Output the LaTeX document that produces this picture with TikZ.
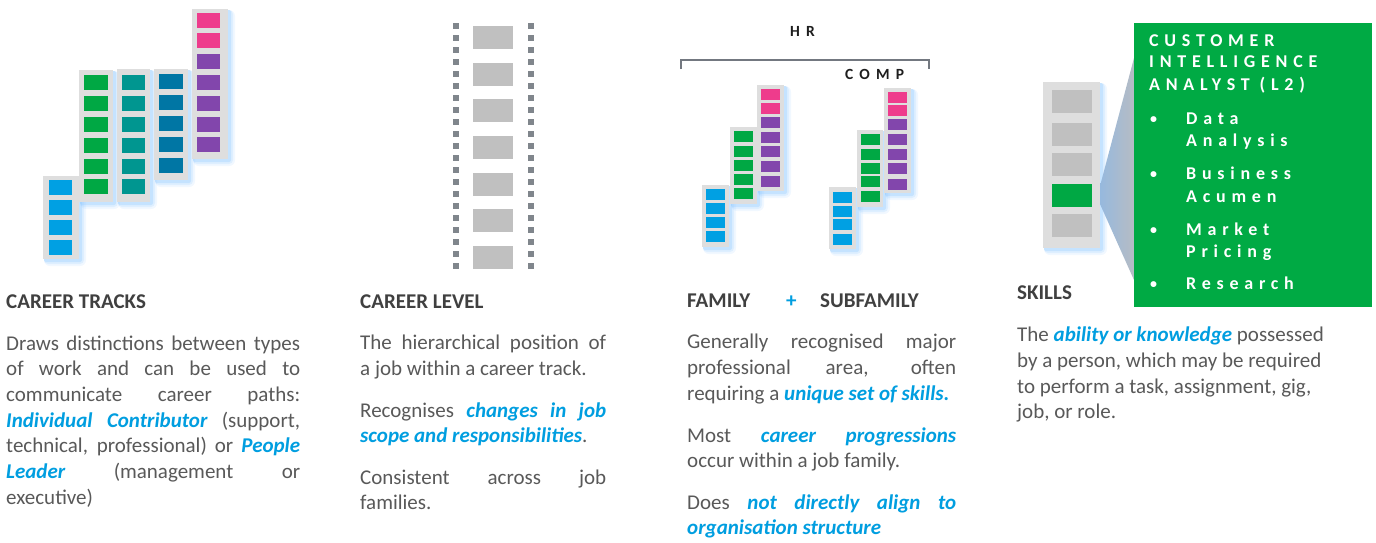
\documentclass[tikz,border=0pt]{standalone}
\usepackage{fontspec}
\setmainfont{Carlito}
\newfontfamily\spacedA[LetterSpace=32]{Carlito}
\newfontfamily\spacedB[LetterSpace=40]{Carlito}
\definecolor{cblue}{RGB}{0,160,227}
\definecolor{cgreen}{RGB}{0,168,68}
\definecolor{cteal}{RGB}{0,150,144}
\definecolor{cdblue}{RGB}{0,118,164}
\definecolor{cpurple}{RGB}{130,70,172}
\definecolor{cpink}{RGB}{238,60,140}
\definecolor{bggray}{RGB}{222,222,222}
\definecolor{sqgray}{RGB}{192,192,192}
\definecolor{dotgray}{RGB}{128,134,140}
\definecolor{tblue}{RGB}{0,158,224}
\definecolor{bodygray}{RGB}{89,89,89}
\definecolor{headgray}{RGB}{64,64,64}
\definecolor{boxgreen}{RGB}{0,170,68}
\definecolor{glowc}{RGB}{140,200,255}
\definecolor{hrblack}{RGB}{30,30,30}
\definecolor{bracketc}{RGB}{115,120,128}
\definecolor{wedgeblue}{RGB}{150,185,222}
\definecolor{wedgegray}{RGB}{182,188,196}
\newcommand\bi[1]{{\bfseries\itshape\color{tblue}#1}}
\newcommand\glowbg[4]{%
  \fill[glowc,opacity=0.12,rounded corners=6pt] (#1+1,#2+1) rectangle (#3+7,#4+7);
  \fill[glowc,opacity=0.18,rounded corners=4pt] (#1+1,#2+1) rectangle (#3+5,#4+5);
  \fill[glowc,opacity=0.30,rounded corners=2pt] (#1+1,#2+1) rectangle (#3+3,#4+3);
  \fill[bggray] (#1,#2) rectangle (#3,#4);
}
\newcommand\sqs[5]{\foreach \yy in {#5} {\fill[#1] (#2,\yy) rectangle ++(#3,#4);}}
\newcommand\jline[5]{\node[bodytxt] (#1) at (#2,#3) {\makebox[#4pt][s]{#5}};}
\newcommand\pline[4]{\node[bodytxt] (#1) at (#2,#3) {#4};}
\newcommand\bxline[4]{\node[boxtxt] (#1) at (#2,#3) {#4};}
\tikzset{
  bodytxt/.style={inner sep=0pt, anchor=base west, text=bodygray, font=\fontsize{21}{25.7}\selectfont},
  headtxt/.style={inner sep=0pt, anchor=base west, text=headgray, font=\bfseries\fontsize{21}{25.7}\selectfont},
  boxtxt/.style={inner sep=0pt, anchor=base west, text=white, font=\spacedA\bfseries\fontsize{18}{20}\selectfont},
  bultxt/.style={inner sep=0pt, anchor=base west, text=white, font=\bfseries\fontsize{14}{16}\selectfont},
  hrtxt/.style={inner sep=0pt, anchor=base west, text=hrblack, font=\spacedB\bfseries\fontsize{15.5}{17}\selectfont},
}
\begin{document}
\begin{tikzpicture}[x=1pt,y=-1pt]
\useasboundingbox (0,0) rectangle (1376,542);
\fill[white] (0,0) rectangle (1376,542);

% ---------- CAREER TRACKS graphic ----------
\glowbg{43}{176}{79}{259}
\sqs{cblue}{49}{23}{15}{180,200,220,240}
\glowbg{79}{70}{113}{202}
\sqs{cgreen}{84}{24}{15}{75,96,117,138,159,179}
\glowbg{117}{69}{150}{202}
\sqs{cteal}{122}{23}{15}{75,96,117,138,159,179}
\glowbg{154}{69}{188}{180}
\sqs{cdblue}{159}{24}{15}{74,95,116,137,158}
\glowbg{192}{9}{228}{159}
\sqs{cpink}{197}{23}{15}{13,33}
\sqs{cpurple}{197}{23}{15}{54,75,96,117,137}

% ---------- CAREER LEVEL graphic ----------
\draw[dotgray, line width=6pt, dash pattern=on 6pt off 6pt] (456,23) -- (456,270);
\draw[dotgray, line width=6pt, dash pattern=on 6pt off 6pt] (531,23) -- (531,270);
\sqs{sqgray}{473}{40}{23}{26,63,99,136,173,209,246}

% ---------- FAMILY graphic ----------
\node[hrtxt] (hr) at (790,36) {HR};
\draw[bracketc, line width=1.3pt] (681,69) -- (681,60) -- (929,60) -- (929,69);
\node[hrtxt] (comp) at (845,79) {COMP};
\glowbg{702}{185}{729}{247}
\sqs{cblue}{706}{19}{11}{189,203,217,231}
\glowbg{730}{127}{757}{204}
\sqs{cgreen}{734}{19}{11}{131,146,160,174,188}
\glowbg{757}{85}{784}{191}
\sqs{cpink}{761}{19}{11}{89,103}
\sqs{cpurple}{761}{19}{11}{117,132,146,161,176}
\glowbg{829}{187}{856}{249}
\sqs{cblue}{833}{19}{11}{192,206,219,234}
\glowbg{857}{130}{883}{207}
\sqs{cgreen}{861}{19}{11}{134,149,163,176,191}
\glowbg{884}{88}{911}{193}
\sqs{cpink}{888}{19}{11}{92,105}
\sqs{cpurple}{888}{19}{11}{119,134,149,163,179}

% ---------- SKILLS graphic ----------
\glowbg{1043}{82}{1100}{248}
\sqs{sqgray}{1052}{40}{23}{90,123,153,214}
\sqs{cgreen}{1052}{40}{23}{184}
\shade[left color=wedgeblue, right color=wedgegray] (1100,186) -- (1134,58) -- (1134,280) -- (1100,204) -- cycle;
\fill[boxgreen] (1134,23) rectangle (1372,307);
\bxline{t1}{1149}{46}{CUSTOMER}
\bxline{t2}{1149}{67}{INTELLIGENCE}
\bxline{t3}{1149}{90}{ANALYST (L2)}
\node[bultxt] (b1) at (1150,123) {•};
\bxline{s1a}{1186}{124}{Data}
\bxline{s1b}{1186}{146}{Analysis}
\node[bultxt] (b2) at (1150,178) {•};
\bxline{s2a}{1186}{179}{Business}
\bxline{s2b}{1186}{202}{Acumen}
\node[bultxt] (b3) at (1150,234) {•};
\bxline{s3a}{1186}{235}{Market}
\bxline{s3b}{1186}{257}{Pricing}
\node[bultxt] (b4) at (1150,288) {•};
\bxline{s4a}{1186}{289}{Research}

% ---------- Column 1 text ----------
\node[headtxt] (h1) at (6,308) {CAREER TRACKS};
\jline{c1a}{6}{350}{294}{Draws distinctions between types}
\jline{c1b}{6}{375.7}{294}{of work and can be used to}
\jline{c1c}{6}{401.4}{294}{communicate career paths:}
\jline{c1d}{6}{427.1}{294}{\bi{Individual Contributor} (support,}
\jline{c1e}{6}{452.8}{294}{technical, professional) or \bi{People}}
\jline{c1f}{6}{478.5}{294}{\bi{Leader} (management or}
\pline{c1g}{6}{504.2}{executive)}

% ---------- Column 2 text ----------
\node[headtxt] (h2) at (360,308) {CAREER LEVEL};
\jline{c2a}{360}{349}{246}{The hierarchical position of}
\pline{c2b}{360}{375}{a job within a career track.}
\jline{c2c}{360}{417}{246}{Recognises \bi{changes in job}}
\pline{c2d}{360}{442}{\bi{scope and responsibilities}.}
\jline{c2e}{360}{484}{246}{Consistent across job}
\pline{c2f}{360}{509}{families.}

% ---------- Column 3 text ----------
\node[headtxt] (h3a) at (687,307) {FAMILY};
\node[headtxt, text=tblue] (h3b) at (786,307) {+};
\node[headtxt] (h3c) at (820,307) {SUBFAMILY};
\jline{c3a}{687}{348}{269}{Generally recognised major}
\jline{c3b}{687}{374}{269}{professional area, often}
\pline{c3c}{687}{400}{requiring a \bi{unique set of skills.}}
\jline{c3d}{687}{442}{269}{Most \bi{career progressions}}
\pline{c3e}{687}{467}{occur within a job family.}
\jline{c3f}{687}{509}{269}{Does \bi{not directly align to}}
\pline{c3g}{687}{534}{\bi{organisation structure}}

% ---------- Column 4 text ----------
\node[headtxt] (h4) at (1017,299) {SKILLS};
\pline{c4a}{1017}{341}{The \bi{ability or knowledge} possessed}
\pline{c4b}{1017}{367}{by a person, which may be required}
\pline{c4c}{1017}{393}{to perform a task, assignment, gig,}
\pline{c4d}{1017}{418}{job, or role.}
\end{tikzpicture}
\end{document}
